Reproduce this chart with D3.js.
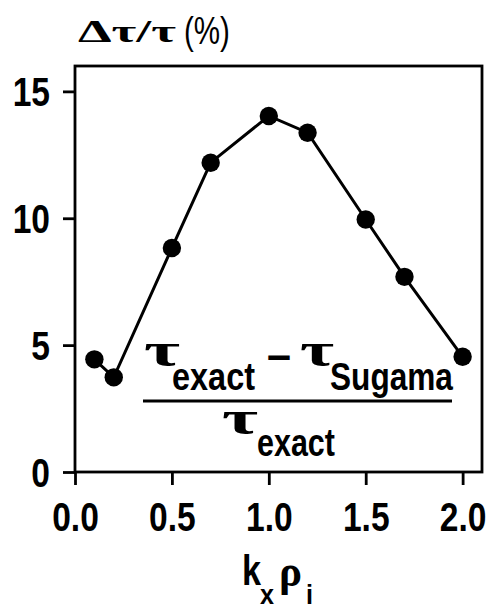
<!DOCTYPE html>
<html>
<head>
<meta charset="utf-8">
<script src="https://cdn.jsdelivr.net/npm/d3@7"></script>
<style>
html,body{margin:0;padding:0;background:#fff;}
svg{display:block;}
</style>
</head>
<body>
<svg id="chart" width="492" height="605"></svg>
<script>
// ---- data ----
const kx = [0.1, 0.2, 0.5, 0.7, 1.0, 1.2, 1.5, 1.7, 2.0];
const dtau = [4.44, 3.73, 8.83, 12.19, 14.03, 13.37, 9.95, 7.69, 4.54];
const xTicks = [0.0, 0.5, 1.0, 1.5, 2.0];
const yTicks = [0, 5, 10, 15];
const xTickLabels = ["0.0", "0.5", "1.0", "1.5", "2.0"];
const yTickLabels = ["0", "5", "10", "15"];

const SANS = "'Liberation Sans',Arial,Helvetica,sans-serif";
const SERIF = "'Liberation Serif','Times New Roman',serif";
const NARROW = 0.84;

const svg = d3.select("#chart");
const L = 75, R = 482, T = 66, B = 472;
const x = d3.scaleLinear().domain([0, 2.1]).range([L, R]);
const y = d3.scaleLinear().domain([0, 16]).range([B, T]);

// frame
svg.append("rect").attr("x", L).attr("y", T).attr("width", R - L).attr("height", B - T)
  .attr("fill", "none").attr("stroke", "#000").attr("stroke-width", 2.8);

// axes
const xAxis = d3.axisBottom(x).tickValues(xTicks).tickSize(13).tickPadding(17)
  .tickFormat((d, i) => xTickLabels[i]);
const yAxis = d3.axisLeft(y).tickValues(yTicks).tickSize(12).tickPadding(13)
  .tickFormat((d, i) => yTickLabels[i]);

const gx = svg.append("g").attr("transform", `translate(0,${B})`).call(xAxis);
const gy = svg.append("g").attr("transform", `translate(${L},0)`).call(yAxis);
[gx, gy].forEach(g => {
  g.select(".domain").remove();
  g.selectAll(".tick line").attr("stroke", "#000").attr("stroke-width", 2.8);
  g.selectAll(".tick text").attr("fill", "#000")
    .style("font-family", SANS).style("font-weight", "bold").style("font-size", "40px");
});
gy.selectAll(".tick text").attr("dy", "0.36em")
  .attr("x", -25 / NARROW).attr("transform", `scale(${NARROW},1)`);
gx.selectAll(".tick text").attr("dy", "0.72em").attr("transform", `scale(${NARROW},1)`);

// line + markers
const line = d3.line().x((d, i) => x(kx[i])).y(d => y(d));
svg.append("path").datum(dtau).attr("d", line)
  .attr("fill", "none").attr("stroke", "#000").attr("stroke-width", 3);
svg.selectAll("circle.pt").data(dtau).enter().append("circle")
  .attr("class", "pt").attr("cx", (d, i) => x(kx[i])).attr("cy", d => y(d))
  .attr("r", 9.2).attr("fill", "#000");

// text placed to fit a given width (horizontal scaling only)
function fit(str, x0, y0, w, fam, size, weight) {
  const g = svg.append("g");
  const t = g.append("text").text(str).attr("x", 0).attr("y", 0)
    .style("font-family", fam).style("font-size", size + "px")
    .style("font-weight", weight || "bold").attr("fill", "#000");
  const bw = t.node().getComputedTextLength();
  const s = w / bw;
  g.attr("transform", `translate(${x0},${y0}) scale(${s},1)`);
  return t;
}

// title
fit("Δτ/τ", 78, 42, 98, SERIF, 32);
fit("(%)", 184, 44, 46, SANS, 38, "normal");

// x label
fit("k", 242, 585, 19, SANS, 42);
fit("x", 260, 604, 14, SANS, 28);
fit("ρ", 279, 586, 23, SERIF, 44);
fit("i", 306, 604, 7, SANS, 28);

// annotation fraction
fit("τ", 144, 366, 36, SERIF, 48);
fit("exact", 172, 390, 83, SANS, 38);
fit("–", 267, 370, 24, SANS, 44);
fit("τ", 300, 366, 34, SERIF, 48);
fit("Sugama", 330, 390, 123, SANS, 38);
svg.append("line").attr("x1", 143).attr("x2", 452).attr("y1", 401).attr("y2", 401)
  .attr("stroke", "#000").attr("stroke-width", 3);
fit("τ", 222, 434, 36, SERIF, 48);
fit("exact", 257, 456, 78, SANS, 38);
</script>
</body>
</html>
